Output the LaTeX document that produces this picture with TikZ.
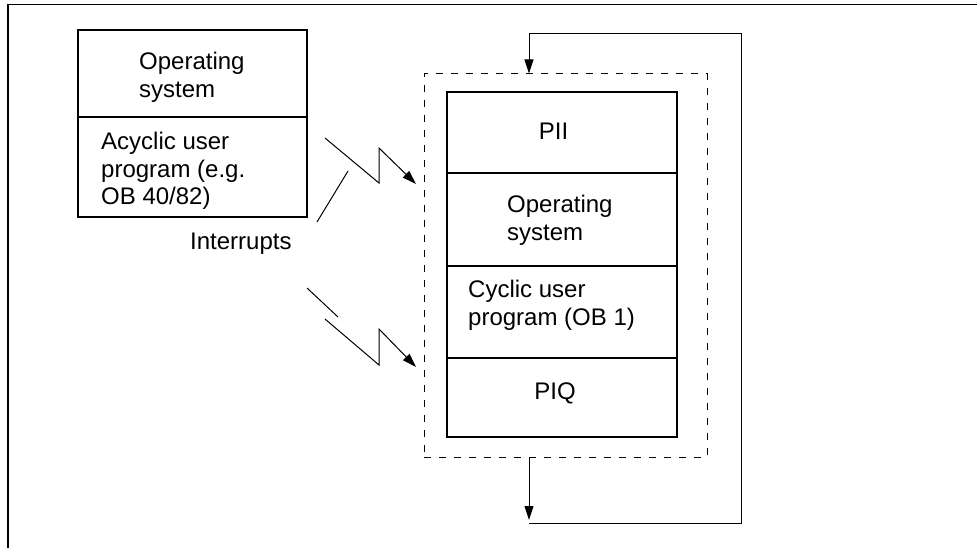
\documentclass[tikz,border=0pt]{standalone}
\usepackage{fontspec}
\setmainfont{Liberation Sans}
\usetikzlibrary{arrows.meta,fit}
\begin{document}
\begin{tikzpicture}[x=1pt,y=-1pt,
  box/.style={draw,line width=1.1pt,inner sep=0pt},
  txt/.style={inner sep=0pt,align=left,font=\fontsize{24}{27.5}\selectfont},
  arr/.style={line width=1pt,-{Triangle[length=14pt,width=9pt]}},
  ln/.style={line width=1pt},
  dsh/.style={draw,line width=1pt,dash pattern=on 7pt off 8pt,inner sep=0pt}]
\useasboundingbox (0,0) rectangle (977,548);
% frame
\draw[line width=1.5pt] (8,548) -- (8,4.5) -- (977,4.5);
% left boxes
\node[box,fit={(78,30) (307,117)}] (los) {};
\node[box,fit={(78,117) (307,217)}] (acy) {};
\node[txt,anchor=north west] (tlos) at (139,52) {Operating\\system};
\node[txt,anchor=north west] (tacy) at (101,132) {Acyclic user\\program (e.g.\\OB 40/82)};
\node[txt,anchor=north west] (tint) at (190,233) {Interrupts};
% dashed frame
\node[dsh,fit={(424,74) (707,457)}] (dash) {};
% right stack
\node[box,fit={(447,92) (677,173)}] (pii) {};
\node[box,fit={(447,173) (677,266)}] (ros) {};
\node[box,fit={(447,266) (677,358)}] (cyc) {};
\node[box,fit={(447,358) (677,437)}] (piq) {};
\node[txt,anchor=north] (tpii) at (553.5,123) {PII};
\node[txt,anchor=north west] (tros) at (507,195) {Operating\\system};
\node[txt,anchor=north west] (tcyc) at (468,280) {Cyclic user\\program (OB 1)};
\node[txt,anchor=north] (tpiq) at (555,383) {PIQ};
% loop
\coordinate (lx) at (529,34);
\coordinate (rb) at (741,523);
\draw[arr] (dash.south -| lx) -- (529,520);
\draw[arr] (529,523) -- (rb) -- (741,34) -- (lx) -- (dash.north -| lx);
% interrupts
\draw[arr] (325,138) -- (379,183) -- (379,148) -- (416,184);
\draw[ln] (348,171) -- (317,222);
\draw[ln] (307,288) -- (338,317);
\draw[arr] (325,319) -- (379,365) -- (379,329) -- (416,367);
\end{tikzpicture}
\end{document}
